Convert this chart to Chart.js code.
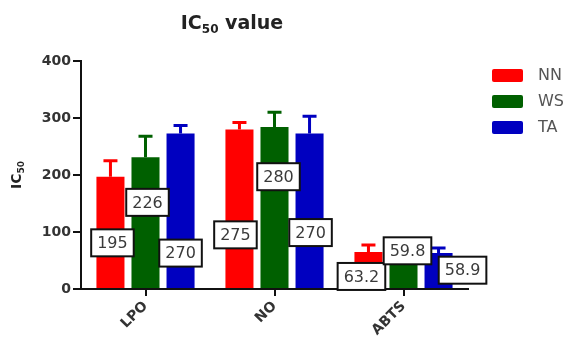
<!DOCTYPE html>
<html>
<head>
<meta charset="utf-8">
<script src="https://cdn.jsdelivr.net/npm/chart.js@4/dist/chart.umd.min.js"></script>
<style>
  html, body { margin: 0; padding: 0; background: #fff; overflow: hidden; }
  #wrap { width: 565px; height: 341px; }
</style>
</head>
<body>
<div id="wrap"><canvas id="chart" width="565" height="341"></canvas></div>
<script>
const categories = ['LPO', 'NO', 'ABTS'];
const seriesNames = ['NN', 'WS', 'TA'];
const nnValues = [197, 280, 65];
const wsValues = [231, 284, 60];
const taValues = [273, 273, 63];
const nnErrors = [28, 12, 12];
const wsErrors = [37, 26, 0];
const taErrors = [14, 30, 9];
const nnLabels = ['195', '275', '63.2'];
const wsLabels = ['226', '280', '59.8'];
const taLabels = ['270', '270', '58.9'];

const colors = ['#ff0000', '#006000', '#0000c0'];
const errors = [nnErrors, wsErrors, taErrors];
const boxTexts = [nnLabels, wsLabels, taLabels];
// where each value box sits: x shift from the bar centre (px) and height on the y scale
const boxPlace = [
  [{ dx: 2, v: 81 }, { dx: -4, v: 95 }, { dx: -7, v: 22 }],
  [{ dx: 2, v: 152 }, { dx: 4, v: 197 }, { dx: 4, v: 67 }],
  [{ dx: 0, v: 63 }, { dx: 1, v: 99 }, { dx: 24, v: 33 }]
];

const FONT = "'DejaVu Sans', Verdana, sans-serif";

const extras = {
  id: 'extras',
  afterDatasetsDraw(chart) {
    const ctx = chart.ctx;
    const y = chart.scales.y;
    ctx.save();
    // error bars
    chart.data.datasets.forEach((ds, i) => {
      const meta = chart.getDatasetMeta(i);
      meta.data.forEach((bar, j) => {
        const err = errors[i][j];
        if (!err) return;
        const top = y.getPixelForValue(ds.data[j] + err);
        ctx.strokeStyle = colors[i];
        ctx.lineWidth = 3;
        ctx.beginPath();
        ctx.moveTo(bar.x, bar.y);
        ctx.lineTo(bar.x, top);
        ctx.moveTo(bar.x - 7, top);
        ctx.lineTo(bar.x + 7, top);
        ctx.stroke();
      });
    });
    // value boxes
    ctx.font = '16px ' + FONT;
    ctx.textAlign = 'center';
    ctx.textBaseline = 'middle';
    chart.data.datasets.forEach((ds, i) => {
      const meta = chart.getDatasetMeta(i);
      meta.data.forEach((bar, j) => {
        const txt = boxTexts[i][j];
        const p = boxPlace[i][j];
        const cx = bar.x + p.dx;
        const cy = y.getPixelForValue(p.v);
        const w = ctx.measureText(txt).width + 12;
        const h = 27;
        ctx.fillStyle = '#fff';
        ctx.fillRect(cx - w / 2, cy - h / 2, w, h);
        ctx.strokeStyle = '#111';
        ctx.lineWidth = 2;
        ctx.strokeRect(cx - w / 2, cy - h / 2, w, h);
        ctx.fillStyle = '#3a3a3a';
        ctx.fillText(txt, cx, cy + 1);
      });
    });
    ctx.restore();
  },
  afterDraw(chart) {
    const ctx = chart.ctx;
    ctx.save();
    // title with subscript
    ctx.fillStyle = '#222';
    ctx.textBaseline = 'alphabetic';
    ctx.textAlign = 'left';
    const big = 'bold 19px ' + FONT, small = 'bold 12px ' + FONT;
    ctx.font = big; const w1 = ctx.measureText('IC').width; const w3 = ctx.measureText(' value').width;
    ctx.font = small; const w2 = ctx.measureText('50').width;
    let x = 232 - (w1 + w2 + w3) / 2;
    const base = 29;
    ctx.font = big; ctx.fillText('IC', x, base); x += w1;
    ctx.font = small; ctx.fillText('50', x, base + 4); x += w2;
    ctx.font = big; ctx.fillText(' value', x, base);

    // y axis title
    ctx.translate(21, 175);
    ctx.rotate(-Math.PI / 2);
    const yb = 'bold 14px ' + FONT, ys = 'bold 9px ' + FONT;
    ctx.font = yb; const a = ctx.measureText('IC').width;
    ctx.font = ys; const b = ctx.measureText('50').width;
    let xx = -(a + b) / 2;
    ctx.font = yb; ctx.fillText('IC', xx, 0); xx += a;
    ctx.font = ys; ctx.fillText('50', xx, 3);
    ctx.setTransform(1, 0, 0, 1, 0, 0);

    // legend
    ctx.font = '16px ' + FONT;
    ctx.textBaseline = 'middle';
    chart.data.datasets.forEach((ds, i) => {
      const ly = 69 + 26 * i;
      ctx.fillStyle = colors[i];
      ctx.beginPath();
      ctx.roundRect(492, ly, 31, 13, 2);
      ctx.fill();
      ctx.fillStyle = '#555';
      ctx.fillText(ds.label, 538, ly + 7);
    });
    ctx.restore();
  }
};

new Chart(document.getElementById('chart'), {
  type: 'bar',
  data: {
    labels: categories,
    datasets: [
      { label: seriesNames[0], data: nnValues, backgroundColor: colors[0] },
      { label: seriesNames[1], data: wsValues, backgroundColor: colors[1] },
      { label: seriesNames[2], data: taValues, backgroundColor: colors[2] }
    ]
  },
  options: {
    responsive: false,
    animation: false,
    categoryPercentage: 0.815,
    barPercentage: 0.8,
    layout: { padding: { top: 61, right: 97, bottom: 0, left: 0 } },
    plugins: {
      legend: { display: false },
      tooltip: { enabled: false }
    },
    scales: {
      x: {
        offset: true,
        grid: { drawOnChartArea: false, drawTicks: true, tickLength: 7, offset: false, color: '#111', lineWidth: 2 },
        border: { display: true, color: '#111', width: 2 },
        ticks: { minRotation: 45, maxRotation: 45, padding: 2, color: '#333', font: { family: FONT, size: 14, weight: 'bold' } },
        afterFit(s) { s.height = 52; }
      },
      y: {
        min: 0,
        max: 400,
        grid: { drawOnChartArea: false, drawTicks: true, tickLength: 8, color: '#111', lineWidth: 2 },
        border: { display: true, color: '#111', width: 2 },
        ticks: { stepSize: 100, padding: 2, color: '#333', font: { family: FONT, size: 14, weight: 'bold' } },
        afterFit(s) { s.width = 81; }
      }
    }
  },
  plugins: [extras]
});
</script>
</body>
</html>
